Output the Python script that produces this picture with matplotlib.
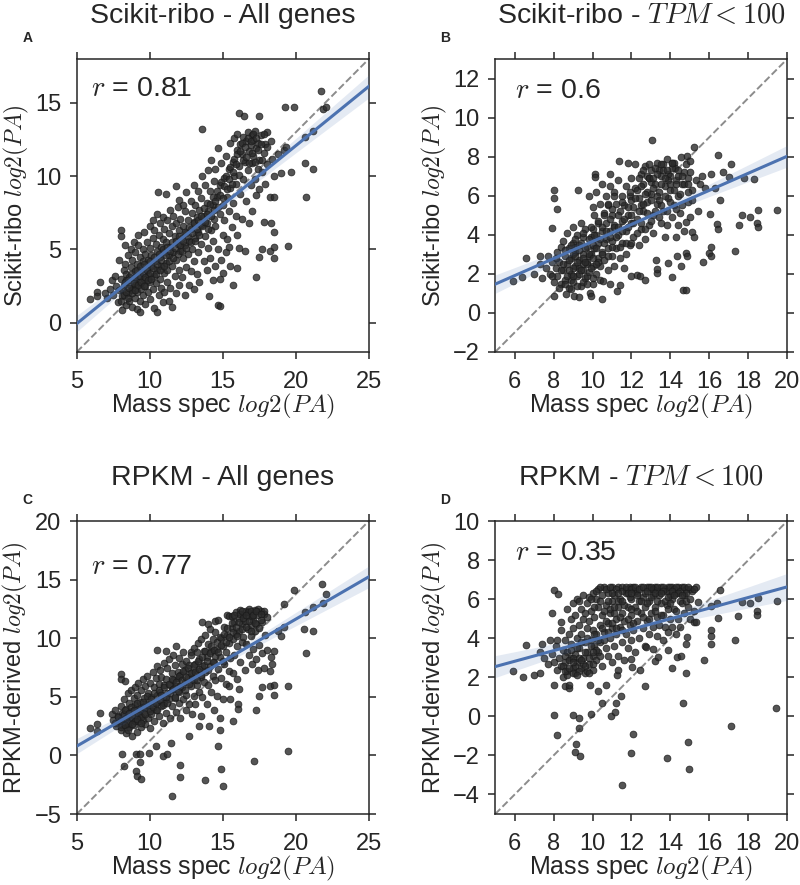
"""Scikit-ribo vs RPKM protein abundance estimates against mass spec (4 panels)."""

import matplotlib

matplotlib.use("Agg")
import matplotlib.pyplot as plt
import numpy as np

plt.rcParams["font.family"] = ["Liberation Sans", "DejaVu Sans"]
plt.rcParams["mathtext.fontset"] = "cm"
plt.rcParams["text.color"] = "#262626"
plt.rcParams["axes.labelcolor"] = "#262626"
plt.rcParams["xtick.color"] = "#262626"
plt.rcParams["ytick.color"] = "#262626"

# ---- data: (mass spec log2 PA, estimated log2 PA) ----
# the sparse/outlying part of each cloud
scikit_all = np.array([
    (5.9, 1.6), (6.4, 2.1), (6.4, 1.8), (6.6, 2.8), (6.9, 2.0), (7.1, 1.7), (7.3, 2.3), (7.4, 2.9),
    (7.5, 1.9), (7.6, 3.2), (7.7, 2.5), (7.8, 1.4), (7.9, 4.3), (7.9, 2.2), (8.0, 3.0), (8.05, 6.3),
    (8.05, 5.9), (8.1, 0.85), (8.1, 1.8), (8.2, 2.6), (8.2, 3.6), (8.3, 5.3), (8.3, 4.0), (8.4, 1.2),
    (8.4, 2.9), (8.4, 3.3), (8.5, 2.0), (8.5, 4.6), (8.6, 1.5), (8.6, 3.1), (8.7, 2.5), (8.7, 3.8),
    (8.7, 5.0), (8.8, 1.1), (8.8, 2.2), (8.8, 4.3), (8.9, 3.0), (8.9, 5.5), (9.0, 1.7), (9.0, 3.5),
    (9.0, 2.6), (9.0, 4.8), (9.1, 0.9), (9.1, 2.1), (9.1, 4.0), (9.2, 3.2), (9.2, 5.3), (9.2, 6.0),
    (9.3, 1.5), (9.3, 2.7), (9.3, 4.5), (9.35, 0.75), (9.4, 3.6), (9.4, 2.3), (9.5, 5.0), (9.5, 1.9),
    (9.5, 4.2), (9.6, 3.0), (9.6, 6.2), (9.7, 2.5), (9.7, 4.7), (9.7, 1.3), (9.8, 3.8), (9.8, 5.5),
    (9.9, 2.1), (9.9, 4.3), (9.9, 3.3), (10.0, 6.6), (10.0, 1.6), (10.0, 5.1), (10.0, 2.8), (10.1, 3.9),
    (10.1, 4.6), (10.2, 7.0), (10.2, 2.3), (10.2, 5.8), (10.3, 1.0), (10.3, 3.2), (10.3, 6.3), (10.4, 4.2),
    (10.4, 2.7), (10.4, 5.4), (10.5, 0.7), (10.5, 3.6), (10.5, 7.4), (10.55, 8.9), (10.5, 4.9), (10.6, 1.9),
    (10.6, 6.0), (10.7, 3.0), (10.7, 4.5), (10.7, 6.8), (10.8, 2.4), (10.8, 5.2), (10.8, 3.9), (10.9, 7.2),
    (10.9, 1.4), (10.9, 5.7), (11.0, 3.4), (11.0, 4.8), (11.0, 6.4), (11.0, 2.1), (11.1, 8.8), (11.1, 4.1),
    (11.1, 5.5), (11.2, 2.8), (11.2, 7.0), (11.2, 3.6), (11.3, 6.1), (11.3, 1.5), (11.3, 4.6), (11.4, 7.7),
    (11.4, 5.2), (11.4, 2.4), (11.5, 3.9), (11.5, 6.6), (11.5, 1.1), (11.6, 4.8), (11.6, 7.3), (11.7, 3.2),
    (11.7, 5.9), (11.8, 9.3), (11.8, 2.0), (11.8, 6.8), (11.8, 4.3), (11.9, 5.4), (11.9, 7.9), (12.0, 3.6),
    (12.0, 6.3), (12.0, 2.6), (12.0, 8.4), (12.1, 4.9), (12.1, 7.1), (12.2, 5.8), (12.2, 3.1), (12.3, 8.0),
    (12.3, 4.4), (12.3, 6.6), (12.4, 1.9), (12.4, 5.3), (12.4, 7.6), (12.5, 3.8), (12.5, 6.1), (12.5, 8.9),
    (12.6, 4.7), (12.6, 7.0), (12.7, 2.6), (12.7, 5.6), (12.8, 8.3), (12.8, 6.4), (12.8, 3.5), (12.9, 7.5),
    (12.9, 5.0), (13.0, 9.4), (13.0, 4.2), (13.0, 6.9), (13.0, 2.3), (13.1, 5.8), (13.1, 8.0), (13.2, 3.3),
    (13.2, 7.2), (13.3, 6.2), (13.3, 9.0), (13.3, 4.8), (13.4, 7.7), (13.4, 2.8), (13.5, 5.4), (13.5, 8.5),
    (13.5, 6.7), (13.6, 13.2), (13.6, 10.0), (13.7, 4.2), (13.7, 7.3), (13.8, 9.4), (13.8, 5.9), (13.9, 6.8),
    (13.9, 3.6), (13.9, 8.2), (14.0, 10.4), (14.0, 5.1), (14.05, 1.8), (14.0, 7.6), (14.1, 9.0), (14.1, 4.4),
    (14.2, 6.3), (14.2, 11.1), (14.3, 8.0), (14.3, 2.9), (14.3, 5.6), (14.4, 9.7), (14.4, 7.1), (14.5, 3.9),
    (14.5, 10.5), (14.5, 6.6), (14.6, 8.6), (14.7, 11.9), (14.7, 5.0), (14.7, 1.2), (14.8, 1.15), (14.8, 2.95),
    (14.8, 9.4), (14.8, 7.4), (14.9, 4.3), (14.9, 10.9), (15.0, 8.0), (15.0, 6.0), (15.0, 3.4), (15.1, 9.9),
    (15.1, 7.0), (15.2, 11.4), (15.2, 4.8), (15.3, 8.6), (15.3, 5.7), (15.45, 5.2), (15.4, 10.5), (15.4, 7.6),
    (15.5, 12.3), (15.5, 9.2), (15.5, 3.9), (15.6, 6.5), (15.7, 2.6), (15.7, 11.0), (15.7, 8.2), (15.8, 12.6),
    (15.8, 10.0), (15.9, 7.3), (15.9, 9.5), (16.0, 3.7), (16.0, 11.8), (16.0, 12.9), (16.0, 6.0), (16.1, 14.3),
    (16.1, 5.1), (16.1, 10.7), (16.2, 12.2), (16.2, 8.8), (16.3, 11.5), (16.3, 7.1), (16.45, 14.1), (16.4, 12.7),
    (16.4, 9.8), (16.5, 4.9), (16.5, 11.0), (16.6, 12.4), (16.6, 8.3), (16.7, 10.4), (16.7, 13.0), (16.8, 11.7),
    (16.8, 6.8), (16.9, 12.1), (16.9, 9.4), (17.0, 10.9), (17.0, 12.8), (17.0, 7.6), (17.1, 11.4), (17.1, 12.5),
    (17.2, 9.8), (17.2, 13.1), (17.3, 3.1), (17.3, 11.9), (17.3, 8.7), (17.4, 10.5), (17.4, 12.3), (17.5, 14.1),
    (17.5, 4.45), (17.5, 11.1), (17.5, 9.1), (17.7, 5.0), (17.6, 12.8), (17.7, 10.3), (17.8, 6.9), (17.8, 11.6),
    (17.9, 12.2), (17.9, 9.5), (18.0, 10.8), (18.0, 13.0), (18.2, 4.9), (18.2, 8.6), (18.3, 6.8), (18.3, 12.4),
    (18.4, 11.2), (18.5, 5.2), (18.5, 4.4), (18.5, 6.2), (18.5, 8.6), (18.5, 10.0), (18.8, 11.5), (19.0, 10.25),
    (19.2, 11.8), (19.25, 14.7), (19.35, 12.0), (19.5, 5.25), (19.7, 10.3), (19.9, 14.7), (20.6, 12.7),
    (20.6, 10.9), (20.7, 8.6), (21.2, 13.1), (21.2, 10.5), (21.76, 15.8), (21.83, 14.6), (22.1, 14.7),
])
# the dark core of the cloud
scikit_all_core = np.array([
    (8.0, 1.5), (8.1, 2.3), (8.2, 1.9), (8.3, 2.8), (8.4, 2.1), (8.5, 1.7), (8.5, 2.9), (8.6, 2.4),
    (8.7, 3.3), (8.8, 2.0), (8.9, 2.7), (9.0, 3.1), (9.0, 2.2), (9.1, 3.6), (9.2, 2.6), (9.3, 3.2),
    (9.3, 3.9), (9.4, 2.8), (9.5, 3.4), (9.6, 2.5), (9.6, 4.0), (9.7, 3.1), (9.8, 3.6), (9.9, 2.9),
    (10.0, 4.2), (10.0, 3.4), (10.1, 3.0), (10.2, 3.7), (10.3, 4.5), (10.4, 3.3), (10.5, 4.0), (10.6, 4.7),
    (10.7, 3.6), (10.8, 4.3), (10.9, 5.0), (11.0, 3.9), (11.1, 4.6), (11.2, 5.2), (11.3, 4.2), (11.4, 4.9),
    (11.5, 5.5), (11.6, 4.4), (11.7, 5.1), (11.8, 5.6), (11.9, 4.7), (12.0, 5.9), (12.1, 5.3), (12.2, 4.9),
    (12.3, 5.6), (12.4, 6.2), (12.5, 5.1), (12.6, 5.9), (12.7, 6.5), (12.8, 5.5), (12.9, 6.1), (13.0, 6.8),
    (13.1, 5.6), (13.2, 6.4), (13.3, 7.0), (13.4, 6.0), (13.5, 7.3), (13.6, 6.6), (13.7, 7.8), (13.8, 6.9),
    (13.9, 7.4), (14.0, 6.4), (14.1, 8.1), (14.2, 7.3), (14.3, 8.6), (14.4, 7.7), (14.5, 8.3), (14.6, 9.0),
    (14.7, 7.9), (14.8, 8.7), (14.9, 9.6), (15.0, 8.5), (15.1, 9.3), (15.2, 10.0), (15.3, 9.1), (15.4, 9.8),
    (15.5, 10.6), (15.6, 9.5), (15.7, 10.3), (15.8, 11.2), (15.9, 10.8), (16.0, 11.5), (16.1, 10.1),
    (16.2, 11.7), (16.3, 12.3), (16.4, 11.1), (16.5, 12.0), (16.6, 11.3), (16.7, 12.6), (16.8, 10.9),
    (16.9, 12.4), (17.0, 11.6), (17.1, 12.9), (17.2, 11.0), (17.3, 12.6), (17.4, 11.8), (17.6, 12.2),
    (17.7, 11.1), (17.8, 12.9), (18.0, 12.0),
])

scikit_low = np.array([
    (5.94, 1.65), (6.4, 1.84), (6.6, 2.8), (7.0, 2.0), (7.3, 2.9), (7.3, 2.5), (7.4, 1.8), (7.6, 2.3),
    (7.7, 2.9), (7.8, 2.0), (7.9, 4.34), (7.9, 2.6), (8.03, 6.29), (8.03, 5.87), (8.04, 0.85), (8.0, 1.6),
    (8.1, 2.3), (8.2, 5.3), (8.2, 3.1), (8.2, 1.9), (8.3, 2.6), (8.4, 3.4), (8.4, 1.5), (8.5, 2.2),
    (8.5, 3.7), (8.6, 2.9), (8.64, 0.97), (8.6, 1.7), (8.7, 4.1), (8.7, 2.5), (8.8, 3.3), (8.8, 1.3),
    (8.9, 1.7), (8.9, 2.0), (8.9, 2.8), (9.0, 3.6), (9.0, 1.6), (9.05, 0.88), (9.0, 4.4), (9.1, 2.4),
    (9.1, 3.4), (9.1, 3.1), (9.2, 1.9), (9.2, 4.0), (9.27, 6.29), (9.3, 0.82), (9.3, 2.7), (9.3, 3.5),
    (9.3, 2.3), (9.4, 1.4), (9.4, 4.6), (9.5, 2.2), (9.5, 3.9), (9.5, 3.0), (9.5, 2.5), (9.6, 1.8),
    (9.6, 4.3), (9.7, 2.6), (9.7, 1.9), (9.7, 3.4), (9.8, 6.0), (9.8, 2.1), (9.8, 2.9), (9.87, 1.02),
    (9.9, 0.88), (9.9, 3.0), (9.9, 3.9), (10.0, 5.4), (10.0, 2.4), (10.0, 4.3), (10.0, 1.5), (10.1, 3.3),
    (10.13, 7.09), (10.13, 6.97), (10.1, 5.0), (10.2, 2.0), (10.2, 4.0), (10.2, 6.2), (10.3, 2.8), (10.3, 4.6),
    (10.3, 3.6), (10.4, 5.6), (10.4, 1.7), (10.4, 2.4), (10.47, 0.71), (10.5, 4.2), (10.5, 6.6), (10.5, 3.1),
    (10.52, 1.65), (10.6, 5.1), (10.6, 2.7), (10.7, 3.8), (10.7, 6.0), (10.7, 4.6), (10.8, 2.2), (10.8, 5.5),
    (10.8, 3.3), (10.9, 7.09), (10.9, 1.48), (10.9, 4.2), (10.9, 6.5), (11.0, 2.9), (11.0, 5.0), (11.0, 3.7),
    (11.1, 6.2), (11.1, 2.4), (11.1, 4.5), (11.2, 3.3), (11.2, 5.6), (11.27, 1.1), (11.3, 6.8), (11.3, 4.0),
    (11.34, 7.76), (11.4, 2.8), (11.41, 1.45), (11.4, 5.2), (11.5, 3.6), (11.5, 4.7), (11.5, 6.0), (11.6, 2.3),
    (11.6, 5.5), (11.7, 3.0), (11.7, 6.5), (11.7, 4.2), (11.8, 7.7), (11.8, 5.0), (11.9, 3.5), (11.9, 6.0),
    (12.0, 1.9), (12.0, 4.6), (12.0, 5.8), (12.0, 6.9), (12.1, 5.4), (12.1, 3.9), (12.2, 7.6), (12.2, 6.4),
    (12.3, 1.94), (12.3, 6.3), (12.3, 4.8), (12.4, 5.9), (12.44, 1.87), (12.4, 3.5), (12.5, 7.1), (12.5, 4.3),
    (12.5, 5.5), (12.6, 6.6), (12.6, 5.2), (12.7, 1.7), (12.7, 3.8), (12.7, 7.5), (12.8, 5.7), (12.8, 7.0),
    (12.9, 6.9), (12.9, 4.5), (13.0, 6.1), (13.0, 6.7), (13.0, 7.3), (13.07, 8.84), (13.1, 5.0), (13.1, 4.1),
    (13.2, 6.6), (13.26, 2.72), (13.29, 2.04), (13.33, 2.24), (13.3, 7.7), (13.3, 5.6), (13.4, 7.3), (13.4, 6.2),
    (13.5, 4.6), (13.5, 7.0), (13.6, 5.2), (13.6, 7.6), (13.7, 3.9), (13.7, 6.5), (13.8, 7.9), (13.8, 4.5),
    (13.89, 2.55), (13.9, 5.9), (13.9, 7.1), (14.0, 7.0), (14.06, 1.84), (14.06, 7.69), (14.0, 6.3), (14.1, 4.9),
    (14.2, 7.7), (14.23, 7.4), (14.2, 5.5), (14.32, 2.89), (14.3, 6.8), (14.3, 3.9), (14.4, 4.5), (14.4, 6.0),
    (14.52, 2.38), (14.54, 8.0), (14.5, 5.1), (14.6, 6.6), (14.66, 1.19), (14.7, 7.2), (14.7, 4.2), (14.8, 1.19),
    (14.8, 3.06), (14.83, 2.93), (14.8, 4.68), (14.86, 8.03), (14.9, 5.7), (14.9, 6.9), (15.0, 4.9), (15.1, 4.15),
    (15.1, 6.3), (15.2, 3.88), (15.2, 8.5), (15.3, 6.8), (15.4, 5.24), (15.5, 6.6), (15.6, 7.0), (15.7, 2.6),
    (15.8, 6.4), (16.0, 3.06), (16.03, 5.07), (16.06, 3.4), (16.06, 2.9), (16.1, 7.1), (16.28, 6.38),
    (16.37, 4.56), (16.45, 4.29), (16.45, 8.1), (16.57, 5.78), (16.7, 7.2), (17.0, 6.97), (17.1, 7.6),
    (17.3, 3.15), (17.5, 4.5), (17.7, 5.0), (17.8, 6.9), (18.1, 4.9), (18.3, 6.85), (18.45, 4.6), (18.5, 4.4),
    (18.5, 5.27), (19.5, 5.27),
])
scikit_low_core = np.array([
    (8.5, 2.5), (8.6, 3.2), (8.7, 1.9), (8.8, 2.7), (8.9, 3.5), (9.0, 2.3), (9.0, 3.0), (9.1, 3.8),
    (9.2, 2.6), (9.3, 3.2), (9.3, 2.0), (9.4, 3.6), (9.5, 2.8), (9.5, 4.1), (9.6, 3.3), (9.7, 2.5),
    (9.8, 3.8), (9.8, 3.0), (9.9, 4.4), (10.0, 3.5), (10.0, 2.8), (10.1, 4.0), (10.2, 3.3), (10.3, 4.7),
    (10.3, 2.6), (10.4, 3.8), (10.5, 4.4), (10.5, 3.0), (10.6, 5.0), (10.6, 3.6), (10.7, 4.2), (10.8, 5.6),
    (10.8, 2.9), (10.9, 3.9), (10.9, 4.8), (11.0, 5.3), (11.0, 3.4), (11.1, 4.4), (11.1, 6.0), (11.2, 3.9),
    (11.3, 5.0), (11.3, 4.4), (11.4, 3.4), (11.5, 5.7), (11.5, 4.2), (11.6, 4.8), (11.7, 3.6), (11.8, 5.4),
    (11.8, 4.4), (11.9, 6.2), (12.0, 5.0), (12.0, 3.6), (12.1, 4.6), (12.2, 5.9), (12.3, 4.1), (12.4, 5.2),
    (12.5, 6.5), (12.5, 4.6), (12.6, 5.6), (12.7, 4.3), (12.8, 6.2), (12.8, 5.1), (12.9, 6.9), (13.0, 4.7),
    (13.0, 5.8), (13.1, 6.4), (13.2, 5.2), (13.3, 7.1), (13.3, 6.0), (13.4, 4.9), (13.5, 6.6), (13.5, 5.5),
    (13.6, 7.3), (13.7, 6.0), (13.8, 5.2), (13.9, 6.8), (14.0, 5.7), (14.1, 7.4), (14.2, 6.3), (14.3, 5.3),
    (14.4, 7.0), (14.5, 6.1), (14.6, 5.5), (14.7, 6.6), (14.9, 6.2), (15.0, 7.2), (15.1, 5.8),
    (7.9, 1.9), (8.1, 2.8), (8.3, 1.3), (8.4, 2.2), (8.6, 1.5), (8.8, 2.2), (8.9, 1.2), (9.0, 1.9),
    (9.1, 2.9), (9.2, 1.4), (9.4, 2.2), (9.5, 1.6), (9.6, 2.6), (9.7, 1.5), (9.9, 2.3), (10.0, 1.8),
    (10.2, 2.5), (12.4, 6.9), (12.6, 7.3), (12.7, 6.1), (12.9, 7.6), (13.1, 6.9), (13.2, 7.4), (13.4, 5.8),
    (13.5, 7.6), (13.7, 6.9), (13.8, 7.3), (14.0, 6.6), (14.1, 7.7), (14.3, 6.6), (14.4, 7.3), (14.6, 7.0),
    (14.8, 7.6), (14.9, 6.6), (15.0, 7.8),
])

rpkm_all = np.array([
    (5.9, 2.35), (6.4, 2.7), (6.4, 2.07), (6.6, 3.65), (7.4, 3.5), (7.5, 3.0), (7.6, 3.9), (7.7, 2.5),
    (7.8, 3.4), (7.9, 2.9), (8.0, 4.2), (8.0, 2.2), (8.06, 6.96), (8.06, 6.54), (8.08, 0.15), (8.1, 3.6),
    (8.2, 2.6), (8.2, 4.8), (8.2, -0.87), (8.3, 6.34), (8.3, 3.1), (8.4, 4.0), (8.4, 1.9), (8.5, 5.3),
    (8.5, 3.4), (8.6, 2.4), (8.6, 4.5), (8.7, 3.0), (8.7, 5.6), (8.8, 3.8), (8.8, 1.7), (8.9, 4.9),
    (8.9, 2.6), (9.0, 3.4), (9.0, 5.8), (9.0, 4.3), (9.06, -1.37), (9.06, 0.15), (9.1, -1.77), (9.1, 2.0),
    (9.1, 3.9), (9.1, 5.2), (9.2, 2.9), (9.2, 6.2), (9.3, 4.6), (9.3, 3.4), (9.33, -0.55), (9.33, 0.15),
    (9.38, -2.05), (9.4, 5.6), (9.4, 2.4), (9.5, 4.1), (9.5, 6.5), (9.5, 3.0), (9.6, 4.9), (9.6, 3.6),
    (9.7, 5.9), (9.7, 2.7), (9.8, 4.4), (9.8, 6.8), (9.9, 3.2), (9.9, 5.3), (9.93, 0.2), (10.0, 4.0),
    (10.0, 6.2), (10.0, 2.3), (10.1, 5.0), (10.1, 3.5), (10.2, 7.1), (10.2, 4.5), (10.3, 5.8), (10.3, 2.9),
    (10.4, 6.6), (10.4, 3.9), (10.4, 0.77), (10.47, 9.0), (10.5, 5.2), (10.5, 7.6), (10.5, 4.6), (10.6, 3.4),
    (10.6, 6.1), (10.7, 5.4), (10.7, 7.3), (10.8, 4.2), (10.8, 6.7), (10.9, 2.8), (10.9, 5.0), (10.9, -0.08),
    (11.0, 7.9), (11.0, 6.0), (11.0, 4.5), (11.1, 8.95), (11.1, 3.6), (11.1, 6.5), (11.2, 5.3), (11.2, 7.5),
    (11.2, 0.15), (11.3, 4.8), (11.3, 8.2), (11.4, 6.0), (11.4, 3.2), (11.48, 1.05), (11.5, -3.5), (11.5, 7.0),
    (11.5, 5.6), (11.5, 4.2), (11.6, 8.6), (11.6, 6.4), (11.7, 4.9), (11.7, 7.7), (11.8, 9.37), (11.8, 3.7),
    (11.8, 5.9), (11.9, 7.1), (11.9, 6.6), (12.0, 4.5), (12.0, 8.3), (12.0, 5.4), (12.07, -1.8), (12.1, -0.85),
    (12.1, 6.9), (12.1, 3.2), (12.2, 7.8), (12.2, 5.8), (12.3, 4.8), (12.3, 8.8), (12.4, 6.3), (12.4, 7.3),
    (12.5, 5.2), (12.5, 8.1), (12.5, 3.9), (12.6, 6.7), (12.7, 1.63), (12.7, 7.7), (12.7, 4.4), (12.8, 8.86),
    (12.8, 5.9), (12.8, 8.6), (12.9, 7.1), (12.9, 3.5), (13.0, 6.4), (13.0, 9.2), (13.0, 5.1), (13.1, 7.8),
    (13.1, 4.4), (13.2, 8.8), (13.2, 6.0), (13.3, 7.2), (13.3, 9.6), (13.4, 5.4), (13.4, 8.2), (13.4, 2.47),
    (13.5, 6.7), (13.5, 3.4), (13.5, 9.9), (13.6, 11.35), (13.6, 7.6), (13.6, 5.0), (13.7, 8.9), (13.7, 6.3),
    (13.8, 10.3), (13.8, 7.1), (13.8, -2.1), (13.9, 4.4), (13.9, 8.4), (14.0, 11.2), (14.0, 9.5), (14.0, 6.0),
    (14.08, 2.47), (14.1, 7.6), (14.1, 10.8), (14.2, 5.4), (14.2, 8.9), (14.3, 6.8), (14.3, 9.9), (14.4, 3.9),
    (14.4, 8.0), (14.5, 11.5), (14.5, 10.5), (14.5, 6.4), (14.6, 9.1), (14.6, 5.1), (14.7, 7.4), (14.7, 11.6),
    (14.7, 0.77), (14.8, 8.4), (14.8, 3.2), (14.8, 2.18), (14.9, 10.0), (14.9, 6.6), (14.9, -1.2), (15.0, -2.6),
    (15.0, 9.3), (15.0, 4.8), (15.1, 11.0), (15.1, 7.8), (15.2, 8.8), (15.2, 6.1), (15.3, 10.3), (15.3, 12.0),
    (15.4, 7.2), (15.4, 9.6), (15.4, 5.9), (15.45, 11.9), (15.5, 8.3), (15.5, 4.8), (15.6, 10.9), (15.6, 11.9),
    (15.7, 7.0), (15.7, 9.9), (15.7, 2.9), (15.8, 11.4), (15.8, 8.6), (15.9, 12.2), (15.9, 10.4), (16.0, 6.5),
    (16.0, 9.3), (16.06, 4.4), (16.06, 4.0), (16.1, 5.68), (16.1, 11.7), (16.1, 10.6), (16.2, 12.4),
    (16.2, 8.0), (16.3, 11.2), (16.3, 9.7), (16.4, 12.0), (16.4, 10.1), (16.5, 11.5), (16.5, 7.3), (16.6, 12.3),
    (16.6, 9.5), (16.7, 10.8), (16.7, 11.9), (16.8, 8.6), (16.8, 12.5), (16.9, 11.1), (16.9, 10.2), (17.0, 12.1),
    (17.0, 7.8), (17.1, 11.6), (17.1, 9.1), (17.15, -0.5), (17.2, 12.4), (17.2, 10.6), (17.3, 11.2), (17.3, 8.2),
    (17.3, 3.9), (17.4, 12.0), (17.4, 7.3), (17.5, 10.9), (17.5, 9.4), (17.5, 5.1), (17.6, 12.3), (17.7, 11.4),
    (17.7, 8.7), (17.7, 5.8), (17.8, 7.5), (17.8, 12.1), (17.9, 10.3), (18.0, 9.0), (18.0, 11.8), (18.2, 7.2),
    (18.2, 5.9), (18.3, 8.4), (18.4, 7.8), (18.5, 8.9), (18.5, 5.2), (18.5, 6.05), (18.8, 10.6), (19.0, 10.2),
    (19.2, 11.0), (19.2, 12.9), (19.5, 5.9), (19.5, 0.37), (19.9, 14.1), (20.55, 10.8), (20.6, 12.2),
    (20.7, 8.75), (21.2, 12.63), (21.2, 10.65), (21.8, 14.67), (21.83, 12.97), (22.1, 13.8),
])
rpkm_all_core = np.array([
    (7.6, 2.8), (7.8, 3.3), (8.0, 3.0), (8.1, 2.6), (8.2, 3.5), (8.3, 3.9), (8.4, 3.2), (8.5, 2.8),
    (8.6, 3.6), (8.7, 4.1), (8.8, 3.3), (8.9, 3.9), (9.0, 2.9), (9.1, 4.5), (9.2, 3.6), (9.3, 4.0),
    (9.4, 3.3), (9.5, 4.6), (9.6, 4.1), (9.7, 3.5), (9.8, 5.1), (9.9, 4.3), (10.0, 3.8), (10.1, 4.8),
    (10.2, 4.1), (10.3, 5.3), (10.4, 4.5), (10.5, 3.9), (10.6, 5.6), (10.7, 4.7), (10.8, 5.2), (10.9, 4.3),
    (11.0, 5.8), (11.1, 5.0), (11.2, 4.5), (11.3, 6.1), (11.4, 5.3), (11.5, 6.5), (11.6, 5.7), (11.7, 5.0),
    (11.8, 6.3), (11.9, 5.5), (12.0, 6.8), (12.1, 5.9), (12.2, 6.4), (12.3, 7.2), (12.4, 5.6), (12.5, 6.7),
    (12.6, 7.5), (12.7, 6.1), (12.8, 7.0), (12.9, 6.5), (13.0, 7.7), (13.1, 7.1), (13.2, 6.4), (13.3, 8.1),
    (13.4, 7.4), (13.5, 6.9), (13.6, 8.4), (13.7, 7.7), (13.8, 8.9), (13.9, 8.1), (14.0, 7.3), (14.1, 8.7),
    (14.2, 9.3), (14.3, 8.0), (14.4, 9.0), (14.5, 8.5), (14.6, 9.7), (14.7, 8.8), (14.8, 10.1), (14.9, 9.4),
    (15.0, 8.1), (15.1, 10.4), (15.2, 9.7), (15.3, 10.9), (15.4, 10.1), (15.6, 11.3), (15.7, 10.5),
    (15.8, 12.0), (15.9, 11.0), (16.0, 10.2), (16.1, 11.4), (16.2, 12.1), (16.3, 10.8), (16.4, 11.7),
    (16.6, 11.0), (16.7, 12.2), (16.8, 11.5), (16.9, 10.6), (17.0, 11.9), (17.2, 11.3), (17.4, 12.5),
    (17.6, 11.6), (17.8, 12.3), (8.0, 2.4), (8.3, 2.6), (8.5, 2.2), (8.8, 2.7), (9.1, 3.1), (9.4, 2.8),
    (16.3, 12.3), (16.6, 12.0), (16.9, 12.3), (17.1, 12.0), (17.3, 12.3), (17.6, 12.1),
])

rpkm_low = np.array([
    (5.94, 2.3), (6.42, 2.0), (6.6, 3.67), (7.0, 2.13), (7.3, 2.2), (7.3, 3.3), (7.4, 3.7), (7.5, 3.0),
    (7.7, 2.7), (7.8, 3.9), (7.9, 5.29), (7.9, 3.2), (8.0, 1.63), (8.0, 2.8), (8.03, 6.48), (8.04, 0.07),
    (8.1, 3.6), (8.2, -0.94), (8.2, 2.4), (8.2, 3.9), (8.23, 6.28), (8.3, 3.0), (8.37, 4.81), (8.4, 4.4),
    (8.4, 2.6), (8.5, 3.4), (8.5, 2.0), (8.6, 1.53), (8.6, 3.9), (8.6, 2.8), (8.7, 5.5), (8.7, 3.3),
    (8.7, 2.3), (8.8, 1.43), (8.8, 4.2), (8.8, 1.6), (8.9, 5.0), (8.9, 3.0), (8.9, 3.7), (9.0, 0.05),
    (9.0, 2.5), (9.0, 5.8), (9.0, 4.5), (9.1, -1.82), (9.1, 3.2), (9.1, 5.2), (9.1, 2.2), (9.15, -1.41),
    (9.2, 4.0), (9.2, 6.0), (9.2, 2.8), (9.3, -0.07), (9.3, 4.7), (9.3, 3.5), (9.32, -0.58), (9.36, -2.04),
    (9.4, 5.5), (9.4, 2.5), (9.4, 4.2), (9.5, 3.0), (9.5, 6.2), (9.5, 5.0), (9.6, 3.8), (9.6, 2.2),
    (9.7, 4.5), (9.7, 5.8), (9.7, 3.3), (9.8, 2.7), (9.8, 6.1), (9.8, 4.9), (9.87, 1.62), (9.9, 3.9),
    (9.9, 5.4), (9.92, 0.1), (10.0, 3.1), (10.0, 4.4), (10.0, 6.3), (10.0, 2.4), (10.1, 5.1), (10.1, 3.6),
    (10.2, 6.0), (10.2, 4.2), (10.2, 2.9), (10.3, 1.29), (10.3, 5.6), (10.3, 3.3), (10.3, 6.5), (10.4, 4.7),
    (10.4, 3.8), (10.47, 0.71), (10.5, 6.2), (10.5, 5.2), (10.5, 2.6), (10.6, 4.3), (10.6, 6.6), (10.67, 1.62),
    (10.7, 3.5), (10.7, 5.7), (10.8, 4.8), (10.8, 6.3), (10.8, 3.1), (10.9, 5.3), (10.9, 4.0), (10.93, 0.02),
    (11.0, 6.6), (11.0, 2.8), (11.0, 5.9), (11.0, 4.5), (11.1, 3.6), (11.1, 6.2), (11.15, 0.22), (11.2, 0.7),
    (11.2, 5.0), (11.2, 4.2), (11.27, 2.13), (11.3, 6.6), (11.3, 3.1), (11.3, 5.6), (11.32, 2.35), (11.4, 4.6),
    (11.4, 6.0), (11.46, 1.02), (11.5, -3.49), (11.5, 3.8), (11.5, 5.3), (11.5, 6.6), (11.6, 4.9), (11.6, 2.9),
    (11.7, 6.3), (11.7, 4.2), (11.8, 5.6), (11.8, 3.5), (11.9, 6.6), (11.9, 4.7), (12.0, 2.94), (12.0, -1.87),
    (12.0, 5.2), (12.0, 6.0), (12.0, 3.9), (12.04, 2.52), (12.1, -0.88), (12.1, 6.6), (12.1, 4.4), (12.2, 5.6),
    (12.2, 3.3), (12.3, 6.3), (12.3, 4.9), (12.4, 5.9), (12.4, 4.0), (12.44, 2.35), (12.5, 6.6), (12.5, 5.3),
    (12.6, 4.5), (12.6, 6.1), (12.7, 1.58), (12.7, 3.6), (12.7, 5.6), (12.74, 3.54), (12.8, 6.6), (12.8, 4.9),
    (12.9, 5.9), (12.9, 4.2), (13.0, 6.5), (13.0, 5.3), (13.1, 4.6), (13.1, 6.2), (13.12, 3.45), (13.2, 2.86),
    (13.2, 5.6), (13.2, 6.6), (13.3, 4.1), (13.3, 5.1), (13.37, 3.06), (13.4, 6.4), (13.4, 4.7), (13.5, 5.8),
    (13.5, 6.6), (13.6, 5.2), (13.6, 3.9), (13.7, 6.5), (13.7, 4.6), (13.8, 5.7), (13.8, -2.13), (13.9, 6.6),
    (13.9, 4.3), (13.9, 3.42), (14.0, 5.0), (14.0, 6.2), (14.06, 2.47), (14.1, 6.6), (14.1, 4.6), (14.2, 5.5),
    (14.3, 6.3), (14.3, 4.2), (14.32, 3.06), (14.4, 6.6), (14.4, 5.0), (14.5, 5.9), (14.5, 4.6), (14.57, 3.11),
    (14.6, 6.6), (14.67, 0.71), (14.7, 6.2), (14.7, 5.3), (14.78, 2.23), (14.78, 3.71), (14.8, 6.5),
    (14.83, 4.05), (14.88, -1.31), (14.9, 5.6), (14.98, -2.72), (15.0, 6.5), (15.0, 5.0), (15.1, 6.4),
    (15.2, 5.4), (15.2, 4.81), (15.3, 6.6), (15.3, 4.81), (15.4, 5.87), (15.72, 2.89), (16.06, 5.66),
    (16.06, 4.42), (16.06, 4.1), (16.06, 3.71), (16.37, 5.8), (16.45, 5.02), (16.57, 6.48), (17.1, -0.51),
    (17.3, 3.91), (17.48, 5.15), (17.7, 5.87), (18.1, 5.8), (18.47, 5.41), (18.47, 5.17), (18.5, 6.04),
    (19.45, 0.43), (19.5, 5.92),
])
rpkm_low_core = np.array([
    (8.5, 2.6), (8.6, 3.1), (8.7, 2.1), (8.8, 2.9), (8.9, 3.4), (9.0, 2.2), (9.0, 3.0), (9.1, 2.6),
    (9.2, 3.5), (9.3, 2.3), (9.3, 3.0), (9.4, 3.8), (9.5, 2.7), (9.6, 3.3), (9.7, 2.3), (9.7, 4.0),
    (9.8, 3.0), (9.9, 3.6), (10.0, 2.7), (10.1, 4.2), (10.2, 3.4), (10.3, 3.9), (10.4, 3.1), (10.5, 4.5),
    (10.6, 3.9), (10.7, 4.9), (10.8, 4.3), (10.9, 5.5), (11.0, 4.8), (11.1, 5.3), (11.2, 4.5), (11.3, 5.9),
    (11.4, 5.1), (11.5, 4.4), (11.6, 5.7), (11.7, 6.5), (11.8, 5.0), (11.9, 6.1), (12.0, 5.5), (12.1, 4.8),
    (12.2, 6.4), (10.4, 6.6), (10.7, 6.5), (10.9, 6.6), (11.2, 6.5), (11.5, 6.4), (11.7, 6.6), (12.0, 6.5),
    (12.2, 6.6), (12.4, 6.5), (12.6, 6.6), (12.7, 6.3), (12.9, 6.6), (13.1, 6.5), (13.3, 6.6), (13.4, 6.2),
    (13.6, 6.6), (13.8, 6.4), (14.0, 6.6), (14.2, 6.5), (14.3, 6.6), (14.5, 6.4), (14.7, 6.6), (14.9, 6.6),
    (12.3, 5.4), (12.5, 5.9), (12.6, 5.1), (12.8, 5.8), (12.9, 5.0), (13.0, 6.1), (13.2, 5.4), (13.3, 5.9),
    (13.5, 5.2), (13.7, 5.9), (13.9, 5.5), (14.1, 6.0), (14.3, 5.4), (14.6, 5.8), (14.8, 5.9),
    (8.6, 2.3), (8.8, 2.5), (9.0, 2.8), (9.2, 2.1), (9.4, 2.9), (9.6, 2.6), (9.8, 2.2), (10.0, 3.3),
    (12.3, 6.2), (12.8, 6.4), (13.2, 6.3), (13.6, 6.4), (14.1, 6.4), (14.4, 6.3), (14.8, 6.3), (15.2, 6.5),
    (13.0, 6.6), (13.9, 6.1), (9.3, 5.9), (9.6, 5.3), (9.9, 6.0), (10.1, 5.6), (10.2, 6.4), (10.4, 5.9),
    (10.6, 5.4), (10.8, 5.9), (11.0, 6.3), (11.1, 5.6), (11.3, 6.3), (11.5, 5.9), (11.8, 6.3), (12.0, 6.3),
    (13.5, 6.3), (14.0, 5.8), (14.6, 6.2), (15.0, 6.0), (14.2, 6.2),
])

titles = ["Scikit-ribo - All genes", "Scikit-ribo - $TPM < 100$",
          "RPKM - All genes", "RPKM - $TPM < 100$"]
ylabels = ["Scikit-ribo $log2(PA)$", "Scikit-ribo $log2(PA)$",
           "RPKM-derived $log2(PA)$", "RPKM-derived $log2(PA)$"]
panel_letters = ["A", "B", "C", "D"]
r_values = ["0.81", "0.6", "0.77", "0.35"]
r_text_y = [15.5, 11.0, 15.5, 8.0]
x_limits = [(5, 25), (5, 20), (5, 25), (5, 20)]
y_limits = [(-2, 18), (-2, 13), (-5, 20), (-5, 10)]
x_ticks = [[5, 10, 15, 20, 25], [6, 8, 10, 12, 14, 16, 18, 20],
           [5, 10, 15, 20, 25], [6, 8, 10, 12, 14, 16, 18, 20]]
y_ticks = [[0, 5, 10, 15], [-2, 0, 2, 4, 6, 8, 10, 12],
           [-5, 0, 5, 10, 15, 20], [-4, -2, 0, 2, 4, 6, 8, 10]]
datasets = [np.vstack([scikit_all, scikit_all_core]), np.vstack([scikit_low, scikit_low_core]),
            np.vstack([rpkm_all, rpkm_all_core]), np.vstack([rpkm_low, rpkm_low_core])]

LINE_BLUE = "#4C72B0"
INK = "#262626"


def regplot(ax, pts, xlim):
    """Scatter + OLS fit with a 95% band, like seaborn's regplot."""
    x, y = pts[:, 0], pts[:, 1]
    ax.scatter(x, y, s=24, marker="o", facecolor="#2b2b2b", edgecolor="#1a1a1a",
               linewidths=0.6, alpha=0.8, zorder=2)
    slope, icpt = np.polyfit(x, y, 1)
    grid = np.linspace(xlim[0], xlim[1], 100)
    fit = slope * grid + icpt
    resid = y - (slope * x + icpt)
    n = len(x)
    s = np.sqrt(np.sum(resid ** 2) / (n - 2))
    se = s * np.sqrt(1.0 / n + (grid - x.mean()) ** 2 / np.sum((x - x.mean()) ** 2))
    ax.fill_between(grid, fit - 1.96 * se, fit + 1.96 * se, color=LINE_BLUE, alpha=0.15,
                    linewidth=0, zorder=3)
    ax.plot(grid, fit, color=LINE_BLUE, lw=2.2, zorder=4)


fig = plt.figure(figsize=(8, 8.85), dpi=100)
lefts = [0.096, 0.619, 0.096, 0.619]
bottoms = [0.6023, 0.6023, 0.0802, 0.0802]
for i in range(4):
    ax = fig.add_axes([lefts[i], bottoms[i], 0.365, 0.331])
    xlim, ylim = x_limits[i], y_limits[i]
    ax.plot(xlim, ylim, ls="--", color="#8c8c8c", lw=1.4, zorder=1)
    regplot(ax, datasets[i], xlim)
    ax.set_xlim(xlim)
    ax.set_ylim(ylim)
    ax.set_xticks(x_ticks[i])
    ax.set_yticks(y_ticks[i])
    ax.tick_params(direction="out", length=5, width=1.1, labelsize=17,
                   top=True, right=True)
    ax.tick_params(axis="x", pad=9)
    ax.tick_params(axis="y", pad=6)
    for sp in ax.spines.values():
        sp.set_color(INK)
        sp.set_linewidth(1.1)
    ax.set_xlabel("Mass spec $log2(PA)$", fontsize=18, labelpad=-1)
    ax.set_ylabel(ylabels[i], fontsize=17, labelpad=3)
    ax.set_title(titles[i], fontsize=20.5, pad=26)
    ax.text(6.0, r_text_y[i], "$r$ = " + r_values[i], fontsize=20.5, va="baseline", ha="left")
    fig.text(lefts[i] - 0.062, bottoms[i] + 0.331 + 0.024, panel_letters[i],
             fontsize=10, fontweight="bold", ha="center", va="center")

fig.savefig("out.png", dpi=100)
